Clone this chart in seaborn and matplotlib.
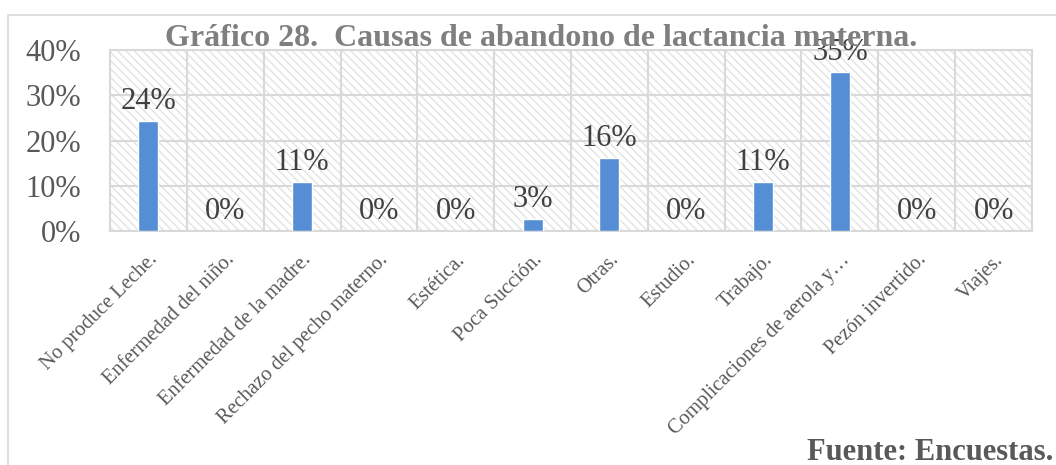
import matplotlib
matplotlib.use("Agg")
import matplotlib.pyplot as plt
import seaborn as sns
import pandas as pd
from matplotlib.patches import Rectangle
from matplotlib.ticker import FixedLocator

# -------------------------------
# Data (percent of 37 surveyed)
# -------------------------------
causes = ["No produce Leche.", "Enfermedad del niño.", "Enfermedad de la madre.",
          "Rechazo del pecho materno.", "Estética.", "Poca Succión.", "Otras.",
          "Estudio.", "Trabajo.", "Complicaciones de aerola y…", "Pezón invertido.",
          "Viajes."]
percent = [24.3, 0, 10.8, 0, 0, 2.7, 16.2, 0, 10.8, 35.1, 0, 0]
y_ticks = [0, 10, 20, 30, 40]

df = pd.DataFrame({"causa": causes, "pct": percent})

sns.set_style("white")
plt.rcParams["font.family"] = ["Liberation Serif", "DejaVu Serif"]
plt.rcParams["hatch.linewidth"] = 1.0
plt.rcParams["hatch.color"] = "#E3E3E3"

W, H = 1056, 465
fig = plt.figure(figsize=(W / 100, H / 100), dpi=100)

# outer chart frame (only top and left edges are visible)
fig.patches.append(Rectangle((8 / W, -0.2), 1.2, 1.2 - 15 / H, transform=fig.transFigure,
                             fill=False, edgecolor="#D9D9D9", linewidth=1.2))

ax = fig.add_axes([110 / W, (H - 231) / H, 922 / W, 181 / H])

# hatched plot area background
ax.add_patch(Rectangle((0, 0), 1, 1, transform=ax.transAxes, facecolor="white",
                       hatch="\\\\\\\\", edgecolor="#E3E3E3", linewidth=0, zorder=0))

sns.barplot(data=df, x="causa", y="pct", color="#558ED5", width=0.26,
            saturation=1, ax=ax, zorder=3)

ax.set_ylim(0, 40)
ax.set_xlim(-0.5, len(causes) - 0.5)
ax.set_yticks(y_ticks)
ax.set_yticklabels([f"{v}%" for v in y_ticks], fontsize=22, color="#595959")
ax.tick_params(axis="y", length=0, pad=21)
ax.set_xticks(range(len(causes)))
ax.set_xticklabels(causes, rotation=45, ha="right", rotation_mode="anchor",
                   fontsize=14.8, color="#595959")
ax.tick_params(axis="x", length=0, pad=14)
ax.xaxis.set_minor_locator(FixedLocator([i - 0.5 for i in range(len(causes) + 1)]))
ax.grid(True, axis="y", which="major", color="#D9D9D9", linewidth=1.5, zorder=1)
ax.grid(True, axis="x", which="minor", color="#D9D9D9", linewidth=1.5, zorder=1)
ax.grid(False, axis="x", which="major")
ax.set_axisbelow(True)
for s in ax.spines.values():
    s.set_color("#D9D9D9")
    s.set_linewidth(1.5)
ax.set_xlabel("")
ax.set_ylabel("")

# data labels
for i, v in enumerate(percent):
    ax.annotate(f"{v:.0f}%", (i, v), xytext=(0, 14), textcoords="offset points",
                ha="center", va="center", fontsize=22, color="#404040", zorder=5)

fig.text(541 / W, 1 - 38 / H, "Gráfico 28.  Causas de abandono de lactancia materna.",
         ha="center", va="center", fontsize=23, fontweight="bold", color="#7F7F7F")
fig.text(1053 / W, 1 - 452 / H, "Fuente: Encuestas.", ha="right", va="center",
         fontsize=22, fontweight="bold", color="#595959")

plt.savefig("out.png", dpi=100)
plt.close()
